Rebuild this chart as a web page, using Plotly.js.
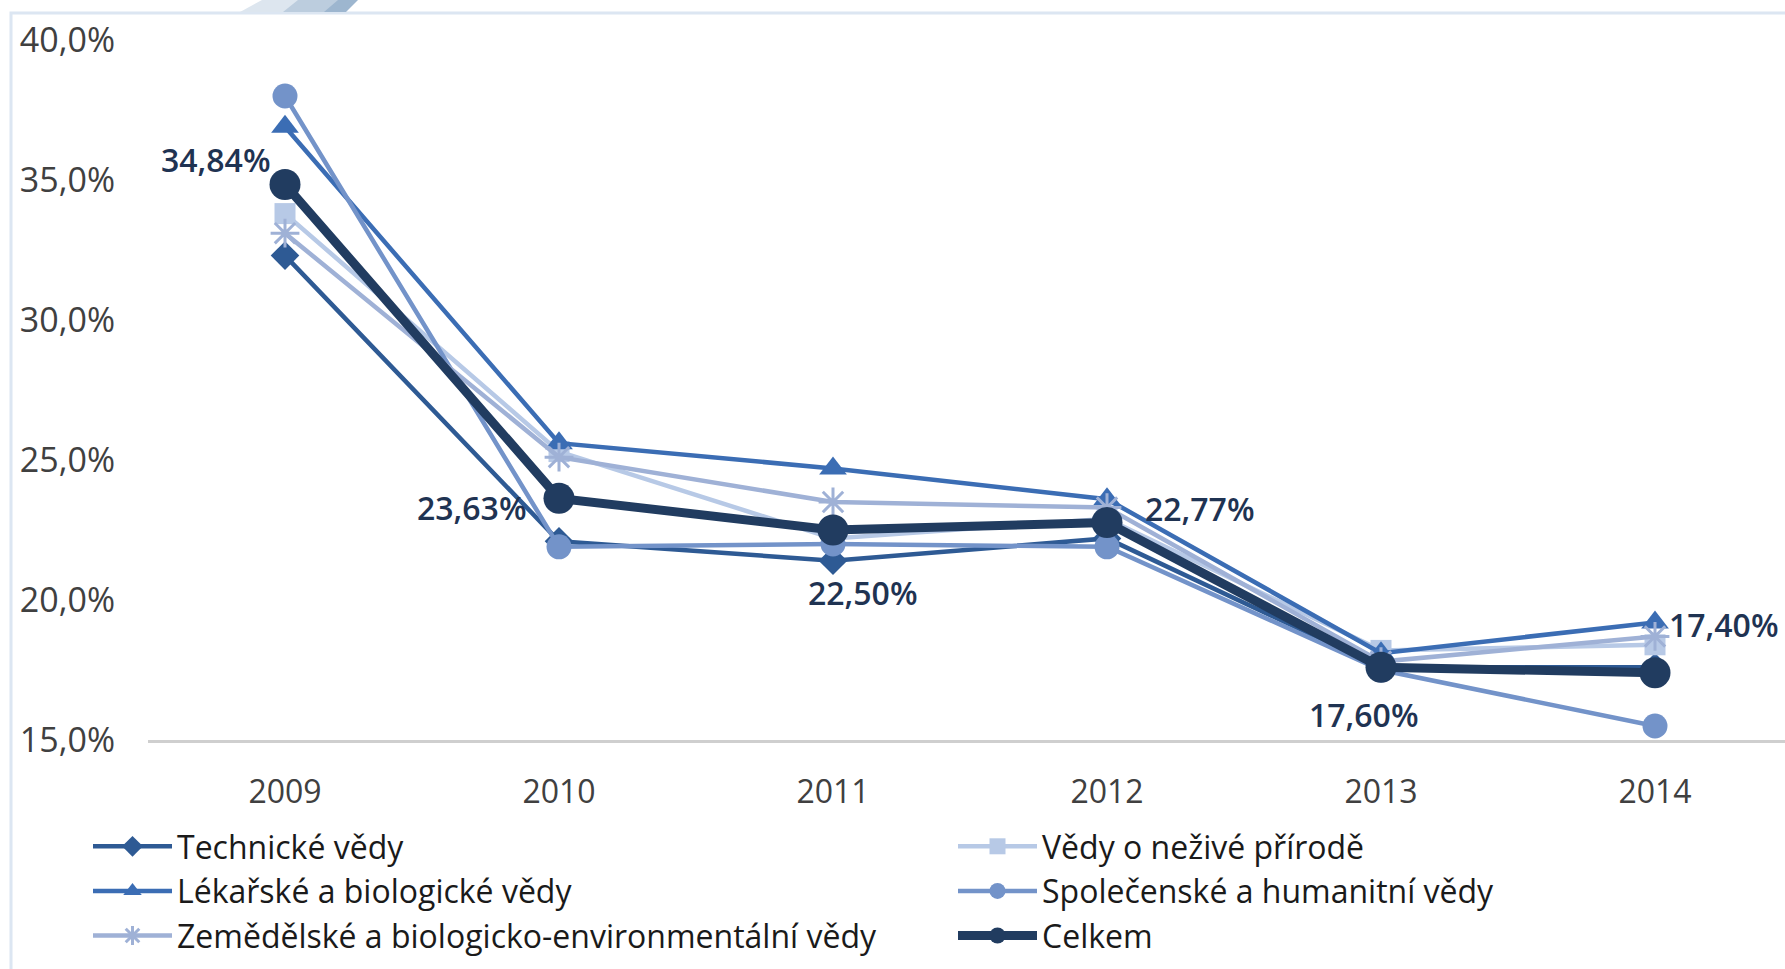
<!DOCTYPE html>
<html>
<head>
<meta charset="utf-8">
<script src="https://cdn.plot.ly/plotly-3.0.1.min.js"></script>
<style>html,body{margin:0;padding:0;background:#fff;}#chart{width:1785px;height:969px;}#err{position:absolute;left:400px;top:100px;color:red;font:20px sans-serif;}</style>
</head>
<body>
<div id="chart"></div>
<div id="err"></div>
<script>
window.onerror = function(m){ document.getElementById('err').textContent += ' ' + m; };
// ---- data ----
const years = ['2009', '2010', '2011', '2012', '2013', '2014'];
const technicke = [32.3, 22.1, 21.4, 22.2, 17.6, 17.6];
const nezive = [33.8, 25.3, 22.2, 22.9, 18.2, 18.4];
const lekarske = [36.9, 25.6, 24.7, 23.6, 18.1, 19.2];
const spolecenske = [38.0, 21.9, 22.0, 21.9, 17.5, 15.5];
const zemedelske = [33.1, 25.1, 23.5, 23.3, 17.8, 18.7];
const celkem = [34.84, 23.63, 22.50, 22.77, 17.60, 17.40];
const seriesNames = ['Technické vědy', 'Vědy o neživé přírodě', 'Lékařské a biologické vědy',
  'Společenské a humanitní vědy', 'Zemědělské a biologicko-environmentální vědy', 'Celkem'];
const celkemLabels = ['34,84%', '23,63%', '22,50%', '22,77%', '17,60%', '17,40%'];
const yTickVals = [15, 20, 25, 30, 35, 40];
const yTickText = ['15,0%', '20,0%', '25,0%', '30,0%', '35,0%', '40,0%'];

const FONT = 'Open Sans, Noto Sans, sans-serif';

function tr(name, y, color, width, symbol, size, legendId, mline) {
  return {
    type: 'scatter', mode: 'lines+markers', name: name, x: years, y: y,
    line: {color: color, width: width},
    marker: {symbol: symbol, size: size, color: color, line: mline || {width: 0}},
    cliponaxis: false, hoverinfo: 'skip', legend: legendId
  };
}

const data = [
  tr(seriesNames[0], technicke, '#2E5A94', 4.5, 'diamond', 22, 'legend'),
  tr(seriesNames[1], nezive, '#B7C9E6', 4.5, 'square', 21, 'legend2'),
  tr(seriesNames[2], lekarske, '#3B6DB4', 4.5, 'triangle-up', 24, 'legend'),
  tr(seriesNames[3], spolecenske, '#7393C9', 4.5, 'circle', 25, 'legend2'),
  tr(seriesNames[4], zemedelske, '#9FB1D6', 4.5, 'asterisk-open', 24, 'legend', {width: 3, color: '#9FB1D6'}),
  tr(seriesNames[5], celkem, '#213C60', 9, 'circle', 31, 'legend2')
];

// label offsets (pixels) relative to the Celkem points
const labelPos = [
  {xanchor: 'right', xshift: -12, yshift: 25},
  {xanchor: 'right', xshift: -30, yshift: -9},
  {xanchor: 'center', xshift: 30, yshift: -62},
  {xanchor: 'left', xshift: 36, yshift: 14},
  {xanchor: 'center', xshift: -17, yshift: -47},
  {xanchor: 'left', xshift: 12, yshift: 48}
];
const annotations = [];
for (let i = 0; i < years.length; i++) {
  const a = {
    x: i, y: celkem[i], xref: 'x', yref: 'y', text: celkemLabels[i], showarrow: false,
    yanchor: 'middle', font: {family: FONT, size: 32, color: '#1F3352', weight: 600}
  };
  Object.keys(labelPos[i]).forEach(k => { a[k] = labelPos[i][k]; });
  annotations.push(a);
}

const W = 1785, L = 148, T = 40, B = 229;
const pw = W - L, ph = 969 - T - B;
const px2x = p => (p - L) / pw;
const py2y = p => (969 - B - p) / ph;

const shapes = [
  {type: 'rect', xref: 'paper', yref: 'paper', x0: px2x(11), x1: px2x(1800), y0: py2y(1000), y1: py2y(13),
   line: {color: '#DCE6F2', width: 3}, fillcolor: 'rgba(0,0,0,0)', layer: 'below'},
  {type: 'path', xref: 'paper', yref: 'paper',
   path: 'M ' + px2x(240) + ' ' + py2y(12) + ' L ' + px2x(262) + ' ' + py2y(0) + ' L ' + px2x(300) + ' ' + py2y(0) + ' L ' + px2x(285) + ' ' + py2y(12) + ' Z',
   fillcolor: '#DDE6EF', line: {width: 0}},
  {type: 'path', xref: 'paper', yref: 'paper',
   path: 'M ' + px2x(283) + ' ' + py2y(12) + ' L ' + px2x(298) + ' ' + py2y(0) + ' L ' + px2x(340) + ' ' + py2y(0) + ' L ' + px2x(326) + ' ' + py2y(12) + ' Z',
   fillcolor: '#BCCDDE', line: {width: 0}},
  {type: 'path', xref: 'paper', yref: 'paper',
   path: 'M ' + px2x(324) + ' ' + py2y(12) + ' L ' + px2x(338) + ' ' + py2y(0) + ' L ' + px2x(358) + ' ' + py2y(0) + ' L ' + px2x(346) + ' ' + py2y(12) + ' Z',
   fillcolor: '#9DB6CF', line: {width: 0}}
];

const legendBase = {
  orientation: 'v', xanchor: 'left', y: py2y(819), yanchor: 'top',
  font: {family: FONT, size: 32, color: '#1A1A1A'},
  itemwidth: 79, tracegroupgap: 0, bgcolor: 'rgba(0,0,0,0)', traceorder: 'normal'
};

const layout = {
  width: W, height: 969,
  margin: {l: L, r: 0, t: T, b: B},
  paper_bgcolor: '#FFFFFF', plot_bgcolor: '#FFFFFF',
  font: {family: FONT, size: 32, color: '#404040'},
  showlegend: true,
  xaxis: {
    type: 'category', range: [-0.5, -0.5 + pw / 274],
    showgrid: false, zeroline: false, showline: true, linecolor: '#CFCFCF', linewidth: 3,
    ticks: '', ticklabelstandoff: 22,
    tickfont: {family: FONT, size: 32, color: '#404040'}, fixedrange: true
  },
  yaxis: {
    range: [15, 40], tickvals: yTickVals, ticktext: yTickText,
    showgrid: false, zeroline: false, showline: false, ticks: '',
    ticklabelstandoff: 32,
    tickfont: {family: FONT, size: 34, color: '#404040'}, fixedrange: true
  },
  legend: Object.assign({}, legendBase, {x: px2x(88)}),
  legend2: Object.assign({}, legendBase, {x: px2x(953)}),
  annotations: annotations,
  shapes: shapes
};

Plotly.newPlot('chart', data, layout, {displayModeBar: false, staticPlot: true});
</script>
</body>
</html>
